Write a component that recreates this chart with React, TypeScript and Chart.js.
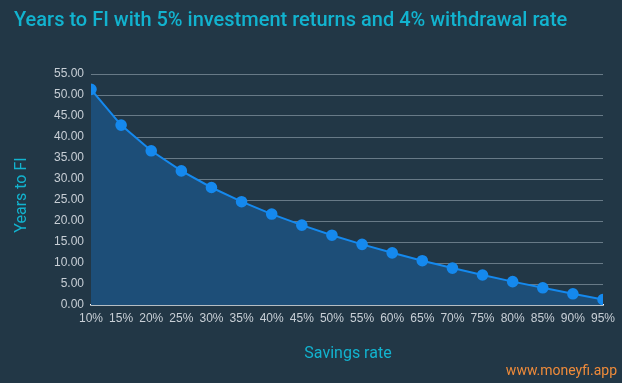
import React, { useEffect, useRef } from "react";
import { Chart, registerables } from "chart.js";

Chart.register(...registerables);

const savingsRates = ["10%", "15%", "20%", "25%", "30%", "35%", "40%", "45%", "50%", "55%", "60%", "65%", "70%", "75%", "80%", "85%", "90%", "95%"];
const yearsToFI = [51.35, 42.83, 36.72, 31.93, 27.98, 24.6, 21.65, 19.01, 16.62, 14.44, 12.42, 10.55, 8.79, 7.14, 5.57, 4.09, 2.67, 1.31];

const titleText = "Years to FI with 5% investment returns and 4% withdrawal rate";
const yTitle = "Years to FI";
const xTitle = "Savings rate";
const watermark = "www.moneyfi.app";

const W = 622;
const H = 383;
const BG = "#223746";
const CYAN = "#12b3cf";

const textPlugin = {
  id: "texts",
  beforeDraw(chart: any) {
    const ctx = chart.ctx;
    ctx.save();
    ctx.fillStyle = BG;
    ctx.fillRect(0, 0, chart.width, chart.height);
    ctx.restore();
  },
  afterDraw(chart: any) {
    const ctx = chart.ctx;
    ctx.save();
    ctx.fillStyle = CYAN;
    ctx.font = "500 20px Roboto";
    ctx.textBaseline = "middle";
    ctx.textAlign = "left";
    ctx.fillText(titleText, 14, 21);

    ctx.font = "16px Roboto";
    ctx.textAlign = "center";
    ctx.fillText(xTitle, 348, 354);

    ctx.save();
    ctx.translate(22, 195);
    ctx.rotate(-Math.PI / 2);
    ctx.fillText(yTitle, 0, 0);
    ctx.restore();

    ctx.fillStyle = "#f08b3a";
    ctx.font = "14px Roboto";
    ctx.textAlign = "right";
    ctx.fillText(watermark, 617, 371);
    ctx.restore();
  },
};

export default function App() {
  const ref = useRef<HTMLCanvasElement>(null);
  useEffect(() => {
    document.body.style.margin = "0";
    const chart = new Chart(ref.current!, {
      type: "line",
      data: {
        labels: savingsRates,
        datasets: [
          {
            data: yearsToFI,
            borderColor: "#1589ee",
            backgroundColor: "#1d4e78",
            pointBackgroundColor: "#1589ee",
            pointBorderColor: "#1589ee",
            pointRadius: 4.8,
            borderWidth: 2,
            fill: "origin",
            tension: 0,
            clip: 0,
          } as any,
        ],
      },
      options: {
        animation: false,
        responsive: false,
        devicePixelRatio: 1,
        layout: { padding: { top: 74, right: 19, left: 0, bottom: 0 } },
        plugins: { legend: { display: false }, tooltip: { enabled: false }, title: { display: false } },
        scales: {
          x: {
            offset: false,
            grid: { display: false, drawTicks: false },
            border: { display: true, color: "#ffffff", width: 1.5 },
            ticks: { color: "#c8cfd6", font: { family: "Liberation Sans", size: 12 }, padding: 6, maxRotation: 0, autoSkip: false },
            afterFit: (s: any) => { s.height = 78; },
          },
          y: {
            min: 0,
            max: 55,
            grid: { color: "rgba(190,205,215,0.45)", drawTicks: false, lineWidth: 1 },
            border: { display: false },
            ticks: {
              stepSize: 5,
              color: "#c8cfd6",
              font: { family: "Liberation Sans", size: 12 },
              padding: 7,
              callback: (v: any) => Number(v).toFixed(2),
            },
            afterFit: (s: any) => { s.width = 91; },
          },
        },
      },
      plugins: [textPlugin],
    });
    return () => chart.destroy();
  }, []);
  return <canvas ref={ref} width={W} height={H} style={{ display: "block", width: W, height: H }} />;
}
